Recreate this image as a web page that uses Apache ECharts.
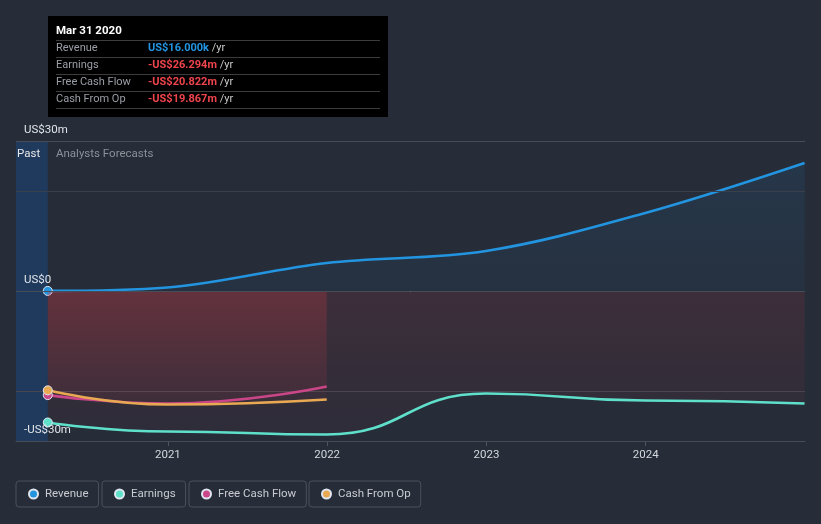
<!DOCTYPE html>
<html>
<head>
<meta charset="utf-8">
<script src="https://cdn.jsdelivr.net/npm/echarts@6/dist/echarts.min.js"></script>
<style>
html,body{margin:0;padding:0;background:#262c38;}
#c{width:821px;height:524px;}
</style>
</head>
<body>
<div id="c"></div>
<script>
// ---- data (US$ millions) ----
const dates = ['2020-03-31','2020-12-31','2021-12-31','2022-12-31','2023-12-31','2024-12-31'];
const revenue = [0.016, 0.7, 5.6, 8.0, 15.6, 25.6];
const earnings = [-26.294, -28.1, -28.7, -20.5, -21.9, -22.5];
const cashDates = ['2020-03-31','2020-12-31','2021-12-31'];
const freeCashFlow = [-20.822, -22.5, -19.1];
const cashFromOp = [-19.867, -22.7, -21.7];
const seriesNames = ['Revenue','Earnings','Free Cash Flow','Cash From Op'];
const seriesColors = ['#2394df','#5fe0cb','#c9468a','#e9a953'];
const yTickLabels = {'-30':'-US$30m','0':'US$0','30':'US$30m'};
const xTickYears = [2021, 2022, 2023, 2024];
const tipTitle = 'Mar 31 2020';
const tipLabels = ['Revenue','Earnings','Free Cash Flow','Cash From Op'];
const tipValues = ['US$16.000k','-US$26.294m','-US$20.822m','-US$19.867m'];
const pastEnd = '2020-03-31';
const axisStart = '2020-01-18';
const axisEnd = '2025-01-01';

function toYear(d){
  const t = Date.parse(d + 'T00:00:00Z');
  const y = new Date(t).getUTCFullYear();
  const s = Date.UTC(y,0,1), e = Date.UTC(y+1,0,1);
  return y + (t - s) / (e - s);
}
function pairs(ds, vs){ return ds.map((d,i)=>[toYear(d), vs[i]]); }

const FONT = 'Roboto';
const FS = 11;
const redArea = {color:{type:'linear',x:0,y:0,x2:0,y2:1,colorStops:[
  {offset:0,color:'rgba(232,62,72,0.17)'},{offset:1,color:'rgba(232,62,72,0.05)'}]}};
const blueArea = {color:{type:'linear',x:0,y:0,x2:0,y2:1,colorStops:[
  {offset:0,color:'rgba(35,148,223,0.15)'},{offset:1,color:'rgba(35,148,223,0.07)'}]}};

function mkSeries(i, data, area, monotone){
  const s = {
    name: seriesNames[i], type:'line', data: data,
    smooth: monotone ? true : 0.35,
    symbol: function(v, p){ return p.dataIndex === 0 ? 'circle' : 'none'; },
    symbolSize: 9,
    lineStyle:{color: seriesColors[i], width: 2.6},
    itemStyle:{color: seriesColors[i], borderColor:'#dfe6ef', borderWidth:1},
    areaStyle: area,
    emphasis:{disabled:true},
    silent:true,
    z: 3 + i
  };
  if (monotone) s.smoothMonotone = 'x';
  return s;
}

const s0 = mkSeries(0, pairs(dates, revenue), blueArea, false);
s0.markArea = {silent:true, itemStyle:{color:'#1f3a5c'},
  data:[[{xAxis: toYear(axisStart)},{xAxis: toYear(pastEnd)}]]};
s0.markLine = {silent:true, symbol:'none', label:{show:false},
  data:[
    {yAxis:20, lineStyle:{color:'#3a404b', width:1, type:'solid'}},
    {yAxis:-20, lineStyle:{color:'#4a4650', width:1, type:'solid'}},
    {yAxis:0, lineStyle:{color:'#e6e6e6', width:1, type:'solid'}}
  ]};
const s1 = mkSeries(1, pairs(dates, earnings), redArea, true);
const s2 = mkSeries(2, pairs(cashDates, freeCashFlow), redArea, true);
const s3 = mkSeries(3, pairs(cashDates, cashFromOp), redArea, true);

function mkLegend(i, left){
  return {
    data:[{name: seriesNames[i], icon:'circle'}],
    left: left, top: 481, orient:'horizontal',
    itemWidth: 9, itemHeight: 9,
    padding:[7,10,7,12],
    borderColor:'#4b515c', borderWidth:1, borderRadius:3,
    selectedMode:false,
    textStyle:{color:'#c9ccd1', fontSize:FS+0.5, fontFamily:FONT, padding:[0,0,0,2]}
  };
}

const tipChildren = [
  {type:'rect', shape:{x:48,y:16,width:340,height:101}, style:{fill:'#000'}},
  {type:'text', x:56, y:31, style:{text:tipTitle, fill:'#fff', font:'bold 11.5px Roboto', verticalAlign:'middle'}}
];
for (let i=0;i<5;i++){
  tipChildren.push({type:'line', shape:{x1:56,y1:40.5+17*i,x2:380,y2:40.5+17*i}, style:{stroke:'#3c3c3c', lineWidth:1}});
}
tipLabels.forEach((lab,i)=>{
  tipChildren.push({type:'text', x:56, y:48.5+17*i, style:{text:lab, fill:'#9a9ea6', font:'11px Roboto', verticalAlign:'middle'}});
  tipChildren.push({type:'text', x:148, y:48.5+17*i, style:{
    text:'{v|' + tipValues[i] + '}{u| /yr}', verticalAlign:'middle',
    rich:{v:{fill: i===0 ? '#2394df' : '#f0444c', font:'bold 11px Roboto'}, u:{fill:'#c8c8c8', font:'11px Roboto'}}
  }});
});

const option = {
  backgroundColor:'#262c38',
  animation:false,
  textStyle:{fontFamily:FONT},
  grid:{left:16, right:16, top:141, bottom:83, containLabel:false},
  xAxis:{
    type:'value', min: toYear(axisStart), max: toYear(axisEnd),
    axisLine:{show:true, onZero:false, lineStyle:{color:'#4e5460'}},
    axisTick:{show:true, length:5, customValues: xTickYears, lineStyle:{color:'#4e5460'}},
    axisLabel:{customValues: xTickYears, color:'#d5d8dd', fontSize:FS+0.5, fontFamily:FONT, margin:8,
      formatter: v => String(Math.round(v))},
    splitLine:{show:false}
  },
  yAxis:{
    type:'value', min:-30, max:30, interval:30, z:20,
    axisLine:{show:false}, axisTick:{show:false},
    axisLabel:{inside:true, margin:8, verticalAlign:'bottom', padding:[0,0,5,0],
      color:'#e2e5ea', fontSize:FS+0.5, fontFamily:FONT,
      formatter: v => yTickLabels[String(v)] || ''},
    splitLine:{show:true, lineStyle:{color:'#474d58', width:1}}
  },
  legend:[mkLegend(0,16), mkLegend(1,102), mkLegend(2,189), mkLegend(3,309)],
  graphic:[
    {type:'text', left:17, top:148, z:100, style:{text:'Past', fill:'#e8e8e8', font:'11.5px Roboto'}},
    {type:'text', left:56, top:148, z:100, style:{text:'Analysts Forecasts', fill:'#8b9099', font:'11.5px Roboto'}},
    {type:'group', z:200, children: tipChildren}
  ],
  series:[s0, s1, s2, s3]
};
const chart = echarts.init(document.getElementById('c'), null, {renderer:'canvas'});
chart.setOption(option);
</script>
</body>
</html>
